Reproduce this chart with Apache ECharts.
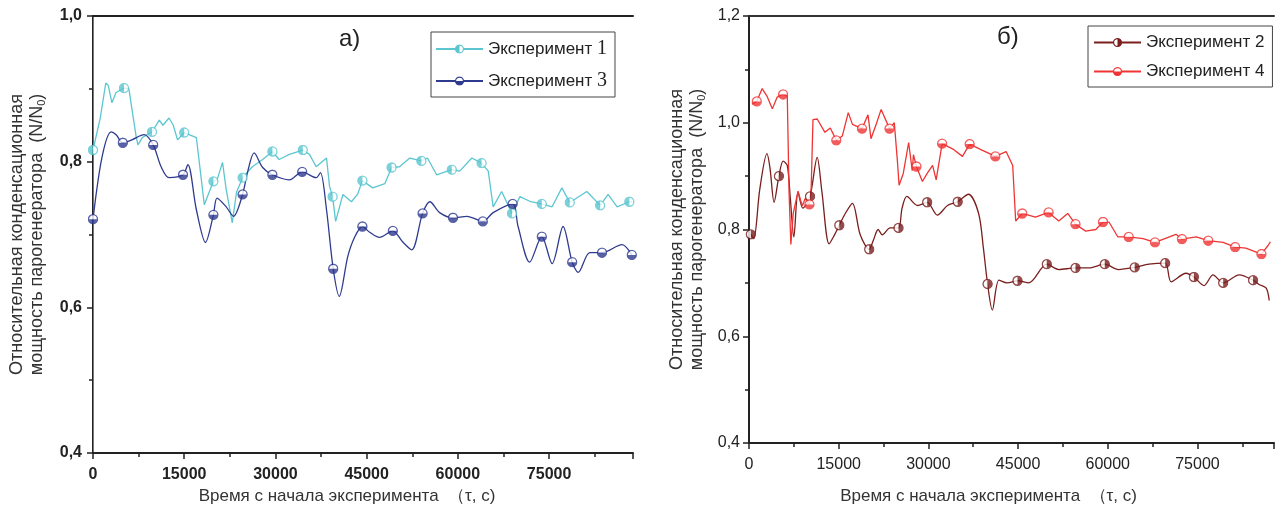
<!DOCTYPE html>
<html>
<head>
<meta charset="utf-8">
<script src="https://cdn.jsdelivr.net/npm/echarts@6/dist/echarts.min.js"></script>
<style>
html, body { margin: 0; padding: 0; background: #fff; }
#chart { width: 1277px; height: 510px; }
</style>
</head>
<body>
<div id="chart"></div>
<script>
// ---- данные: [время, N/N0] ----
const exp1Trace = [[1200,0.86],[2100,0.908],[2500,0.905],[3100,0.881],[3800,0.895],[5900,0.90],[7100,0.834],[7400,0.823],[8100,0.833],[10900,0.857],[11500,0.85],[12500,0.860],[13200,0.85],[13900,0.830],[17000,0.833],[18300,0.741],[20400,0.775],[21300,0.799],[21900,0.762],[22900,0.716],[23600,0.758],[26200,0.793],[27900,0.803],[30600,0.803],[32300,0.810],[35600,0.81],[36700,0.793],[38400,0.805],[38900,0.766],[39900,0.718],[41100,0.755],[42500,0.745],[43500,0.755],[46000,0.764],[48000,0.77],[50400,0.793],[52100,0.805],[55000,0.805],[56500,0.782],[60300,0.787],[62300,0.805],[65000,0.787],[65800,0.738],[67200,0.759],[70200,0.752],[72000,0.745],[75500,0.738],[77100,0.764],[81200,0.759],[84700,0.755],[86200,0.738],[88700,0.745]]
const exp1Marks = [[0,0.816],[5100,0.901],[9700,0.841],[15000,0.840],[19800,0.773],[24600,0.778],[29500,0.814],[34500,0.816],[39400,0.752],[44300,0.774],[49100,0.792],[54000,0.801],[59000,0.789],[63900,0.798],[68900,0.729],[73800,0.742],[78400,0.744],[83400,0.740],[88200,0.745]]

const exp3Trace = [[1500,0.807],[3000,0.841],[3800,0.837],[6400,0.83],[8400,0.837],[11200,0.793],[12500,0.778],[15600,0.796],[17000,0.734],[18500,0.689],[20400,0.75],[21900,0.738],[23100,0.725],[25400,0.785],[26500,0.812],[27900,0.792],[32300,0.775],[36700,0.778],[37400,0.785],[38400,0.734],[40500,0.615],[41900,0.67],[43000,0.696],[45500,0.703],[47100,0.696],[50900,0.69],[52400,0.679],[55400,0.745],[57000,0.73],[61500,0.725],[65800,0.73],[69900,0.711],[71800,0.662],[75500,0.660],[77300,0.711],[79800,0.648],[81700,0.675],[87000,0.686]]
const exp3Marks = [[0,0.721],[4900,0.826],[9900,0.823],[14800,0.782],[19800,0.727],[24600,0.755],[29500,0.782],[34400,0.786],[39500,0.653],[44300,0.711],[49300,0.705],[54200,0.729],[59200,0.723],[64100,0.718],[69000,0.742],[73800,0.697],[78800,0.662],[83700,0.675],[88600,0.672]]

const exp2Trace = [[800,0.783],[1800,0.875],[3000,0.942],[3500,0.916],[4200,0.851],[5700,0.928],[6400,0.92],[6900,0.86],[7500,0.786],[8200,0.87],[9000,0.84],[11400,0.935],[12200,0.87],[13400,0.773],[14300,0.79],[16100,0.83],[17300,0.849],[18600,0.79],[20800,0.78],[21600,0.80],[22300,0.79],[23600,0.803],[25600,0.84],[26400,0.862],[28200,0.845],[31500,0.827],[33200,0.845],[36700,0.866],[38400,0.83],[39200,0.765],[40700,0.649],[41800,0.705],[43200,0.70],[46800,0.70],[51800,0.725],[56800,0.728],[61800,0.725],[66900,0.735],[70600,0.702],[73100,0.718],[76100,0.695],[77600,0.715],[82000,0.715],[85300,0.697],[86500,0.69],[87000,0.667]]
const exp2Marks = [[300,0.791],[5000,0.90],[10200,0.862],[15100,0.808],[20100,0.763],[25000,0.803],[29800,0.851],[34900,0.852],[39900,0.698],[44900,0.704],[49800,0.735],[54600,0.728],[59500,0.735],[64500,0.729],[69600,0.737],[74400,0.711],[79300,0.70],[84300,0.705]]

const exp4Trace = [[500,1.035],[2200,1.064],[3000,1.05],[3900,1.026],[4700,1.048],[6400,1.05],[6700,0.870],[7000,0.772],[7400,0.83],[8200,0.872],[8900,0.844],[9400,0.858],[10400,0.878],[10700,1.006],[11400,1.007],[12700,0.982],[13600,0.99],[15600,0.975],[16600,1.019],[17300,0.997],[19900,1.015],[20400,0.97],[21300,0.998],[22100,1.025],[24300,1.0],[24800,0.931],[25100,0.883],[25800,0.905],[26700,0.963],[27300,0.91],[27500,0.94],[29000,0.890],[29800,0.905],[30700,0.92],[31300,0.893],[34200,0.95],[35700,0.937],[38700,0.95],[43000,0.946],[44100,0.92],[44600,0.816],[47900,0.823],[51800,0.816],[53300,0.83],[56300,0.797],[58000,0.80],[60200,0.814],[61700,0.786],[65900,0.783],[71400,0.791],[74800,0.786],[79300,0.776],[83100,0.765],[86800,0.77],[87200,0.777]]
const exp4Marks = [[1300,1.040],[5700,1.053],[10100,0.847],[14600,0.967],[18900,0.989],[23500,0.989],[28000,0.918],[32300,0.961],[36900,0.96],[41200,0.937],[45700,0.830],[50100,0.832],[54600,0.81],[59200,0.814],[63500,0.786],[67900,0.776],[72400,0.782],[76800,0.779],[81300,0.767],[85700,0.754]]

const xTicks = [0, 15000, 30000, 45000, 60000, 75000]

// ---- оформление ----
const C1 = '#5cc6d0', C3 = '#2e3a8f', C2 = '#7a1e1e', C4 = '#ef3434'

// маркер — полузакрашенный кружок
const halfDot = (color, side) => {
  const arcs = {
    bottom: 'M1.5 10 A8.5 8.5 0 0 0 18.5 10 Z',
    left: 'M10 1.5 A8.5 8.5 0 0 0 10 18.5 Z',
    right: 'M10 1.5 A8.5 8.5 0 0 1 10 18.5 Z'
  }
  const svg = "<svg xmlns='http://www.w3.org/2000/svg' width='20' height='20' viewBox='0 0 20 20'>" +
    "<circle cx='10' cy='10' r='8.2' fill='#fff'/>" +
    "<path d='" + arcs[side] + "' fill='" + color + "'/>" +
    "<circle cx='10' cy='10' r='8.2' fill='none' stroke='" + color + "' stroke-width='2.4'/></svg>"
  return 'image://data:image/svg+xml;charset=utf-8,' + encodeURIComponent(svg)
}

const merge = (trace, marks) => trace.concat(marks).sort((a, b) => a[0] - b[0])
const comma = v => v.toFixed(1).replace('.', ',')
const FONT = 'Liberation Sans'

const chart = echarts.init(document.getElementById('chart'))

const bottomAxis = (gridIndex, max, bold, nameGap, pad) => ({
  type: 'value', gridIndex, min: 0, max, interval: 15000,
  axisLine: { lineStyle: { color: '#222', width: 2 } },
  axisTick: { length: 6, lineStyle: { color: '#222', width: 1.5 } },
  minorTick: { show: true, splitNumber: 2, length: 4, lineStyle: { color: '#222', width: 1.5 } },
  splitLine: { show: false },
  axisLabel: {
    margin: 14, showMaxLabel: false, color: '#222', fontFamily: FONT, fontSize: 16,
    fontWeight: bold ? 'bold' : 'normal', formatter: v => xTicks.includes(v) ? String(v) : ''
  },
  name: 'Время с начала эксперимента  （τ, с)',
  nameLocation: 'middle', nameGap,
  nameTextStyle: { color: '#333', fontFamily: FONT, fontSize: 17, padding: pad }
})

const frameAxis = (gridIndex, max, color, width, pos) => ({
  type: 'value', gridIndex, position: pos, min: 0, max,
  axisLine: { show: true, lineStyle: { color, width } },
  axisTick: { show: false }, axisLabel: { show: false }, splitLine: { show: false }
})

const yName = '{a|Относительная конденсационная}\n{a|мощность парогенератора  (N/N}{s|0}{a|)}'
const leftAxis = (gridIndex, min, max, bold, nameGap, margin) => ({
  type: 'value', gridIndex, min, max, interval: 0.2,
  axisLine: { show: true, lineStyle: { color: '#222', width: 2 } },
  axisTick: { show: true, length: 6, lineStyle: { color: '#222', width: 1.5 } },
  minorTick: { show: true, splitNumber: 2, length: 4, lineStyle: { color: '#222', width: 1.5 } },
  splitLine: { show: false },
  axisLabel: {
    margin, color: '#222', fontFamily: FONT, fontSize: 16,
    fontWeight: bold ? 'bold' : 'normal', formatter: comma
  },
  name: yName, nameLocation: 'middle', nameGap,
  nameTextStyle: {
    rich: {
      a: { fontFamily: FONT, fontSize: 18, color: '#333', lineHeight: 20 },
      s: { fontFamily: FONT, fontSize: 11, color: '#333', lineHeight: 20, verticalAlign: 'bottom', padding: [9, 0, 0, 0] }
    }
  }
})

const lineSeries = (name, trace, marks, color, symbol, xi, smooth) => ({
  name, type: 'line', xAxisIndex: xi, yAxisIndex: xi,
  data: merge(trace, marks), smooth, showSymbol: false, symbol, symbolSize: 11,
  lineStyle: { color, width: 1.3 }, itemStyle: { color }, silent: true, z: 2
})
const markSeries = (marks, color, symbol, xi) => ({
  name: 'm', type: 'scatter', xAxisIndex: xi, yAxisIndex: xi,
  data: marks, symbol, symbolSize: 11, itemStyle: { color }, silent: true, z: 3
})

const legendBox = (left, top, data, pad, gap, rich) => ({
  data, orient: 'vertical', left, top, padding: pad, itemGap: gap,
  itemWidth: 47, itemHeight: 12,
  borderColor: '#444', borderWidth: 1, backgroundColor: '#fff',
  textStyle: { color: '#222', fontFamily: FONT, fontSize: 17, rich },
  formatter: rich ? (n => n.replace(/ (\d)$/, ' {n|$1}')) : undefined
})

chart.setOption({
  animation: false,
  grid: [
    { left: 93, top: 16, width: 540, height: 438 },
    { left: 749, top: 16, width: 525, height: 429 }
  ],
  xAxis: [
    bottomAxis(0, 88800, true, 35, [0, 32, 0, 0]),
    bottomAxis(1, 87800, false, 45, [0, 46, 0, 0]),
    frameAxis(0, 88800, '#222', 2, 'top'),
    frameAxis(1, 87800, '#333', 2, 'top')
  ],
  yAxis: [
    leftAxis(0, 0.4, 1.0, true, 46, 11),
    leftAxis(1, 0.4, 1.2, false, 42, 9),
    { type: 'value', gridIndex: 0, position: 'right', min: 0.4, max: 1.0,
      axisLine: { show: true, lineStyle: { color: '#777', width: 1 } },
      axisTick: { show: false }, axisLabel: { show: false }, splitLine: { show: false } }
  ],
  legend: [
    legendBox(431, 32, ['Эксперимент 1', 'Эксперимент 3'], [7, 8, 6, 4], 12,
      { n: { fontFamily: 'Liberation Serif', fontSize: 20, color: '#222' } }),
    legendBox(1088, 26, ['Эксперимент 2', 'Эксперимент 4'], [8, 8, 7, 5], 12, null)
  ],
  graphic: [
    { type: 'text', left: 339, top: 27, style: { text: 'а)', font: '24px "Liberation Sans"', fill: '#222' } },
    { type: 'text', left: 997, top: 25, style: { text: 'б)', font: '24px "Liberation Sans"', fill: '#222' } }
  ],
  series: [
    lineSeries('Эксперимент 1', exp1Trace, exp1Marks, C1, halfDot(C1, 'left'), 0, false),
    markSeries(exp1Marks, C1, halfDot(C1, 'left'), 0),
    lineSeries('Эксперимент 3', exp3Trace, exp3Marks, C3, halfDot(C3, 'bottom'), 0, 0.3),
    markSeries(exp3Marks, C3, halfDot(C3, 'bottom'), 0),
    lineSeries('Эксперимент 2', exp2Trace, exp2Marks, C2, halfDot(C2, 'right'), 1, 0.3),
    markSeries(exp2Marks, C2, halfDot(C2, 'right'), 1),
    lineSeries('Эксперимент 4', exp4Trace, exp4Marks, C4, halfDot(C4, 'bottom'), 1, false),
    markSeries(exp4Marks, C4, halfDot(C4, 'bottom'), 1)
  ]
})
</script>
</body>
</html>
